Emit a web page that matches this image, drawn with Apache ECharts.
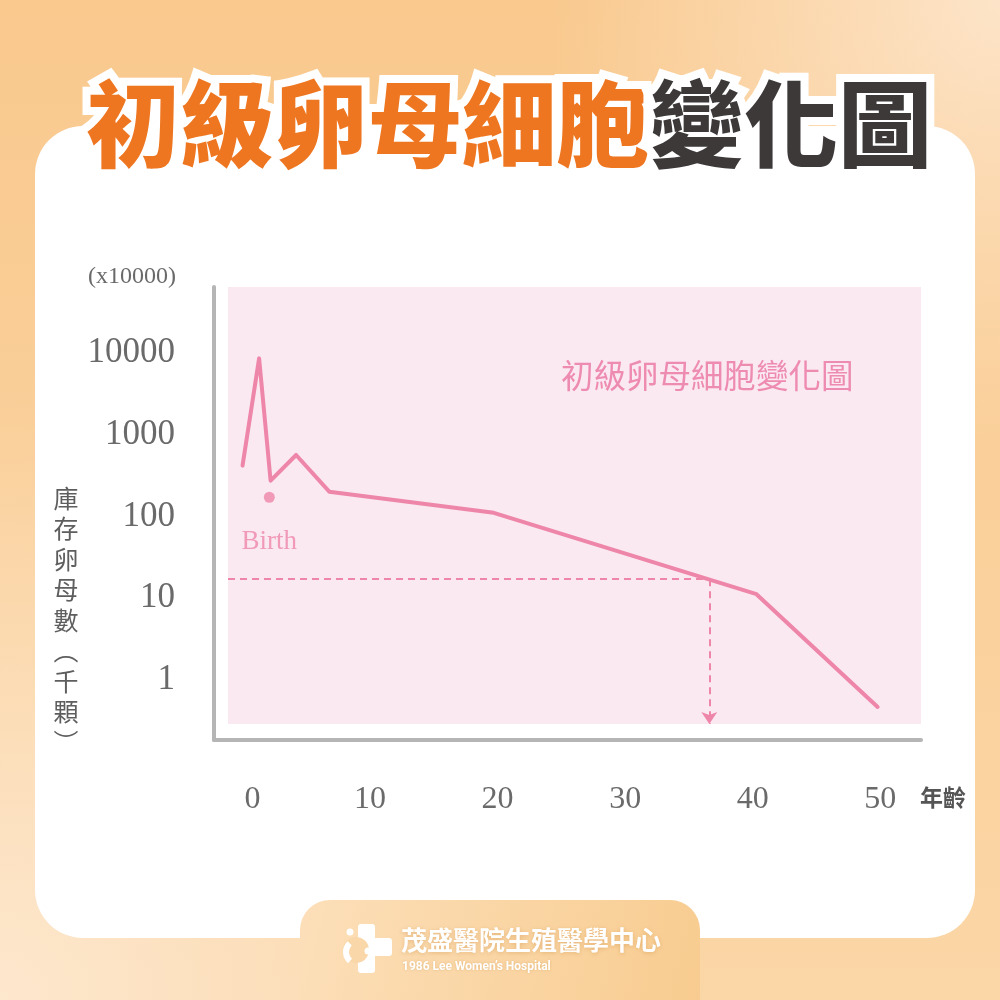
<!DOCTYPE html>
<html><head><meta charset="utf-8">
<script src="https://cdn.jsdelivr.net/npm/echarts@6/dist/echarts.min.js"></script>
<style>html,body{margin:0;padding:0;background:#fff;}#c{width:1000px;height:1000px;}</style>
</head><body><div id="c"></div>
<script>
// ---- data ----
const ages = [0, 1.3, 2.2, 4.2, 6.8, 19.7, 40.3, 49.8];
const oocytes = [385, 7900, 252, 520, 185, 102, 10.3, 0.43];
const birthPoint = [2.1, 158];
const birthLabel = 'Birth';
const refAge = 36.6;
const refCount = 15.7;
const xTicks = [0, 10, 20, 30, 40, 50];
const yTicks = [1, 10, 100, 1000, 10000];
const xRange = [-1.14, 53.2];
const yRange = [0.266, 59000];
const titleOrange = '初級卵母細胞';
const titleDark = '變化圖';
const plotTitle = '初級卵母細胞變化圖';
const yUnit = '(x10000)';
const yNameChars = ['庫', '存', '卵', '母', '數', '︵', '千', '顆', '︶'];
const xName = '年齡';
const footerName = '茂盛醫院生殖醫學中心';
const footerSub = '1986 Lee Women’s Hospital';

const PINK = '#ee86aa';
const GREY = '#6a6a6a';
const SERIF = '"Liberation Serif", "DejaVu Serif", serif';
const CJK = '"Noto Sans CJK TC", "Noto Sans", sans-serif';

const chart = echarts.init(document.getElementById('c'), null, { renderer: 'canvas' });

function matchTick(v, ticks) {
  for (const t of ticks) { if (Math.abs(t - v) <= Math.abs(t) * 1e-6 + 1e-9) return String(t); }
  return '';
}

const option = {
  animation: false,
  grid: [
    { left: 228, top: 287, right: 79, bottom: 276, show: true, backgroundColor: '#fbe9f1', borderWidth: 0, z: 1 },
    { left: 214, top: 287, right: 79, bottom: 260, show: false, z: 1 }
  ],
  xAxis: [
    {
      type: 'value', gridIndex: 0, min: xRange[0], max: xRange[1],
      axisLine: { show: false }, axisTick: { show: false }, splitLine: { show: false },
      axisLabel: {
        customValues: xTicks, margin: 60, color: GREY, fontSize: 32, fontFamily: SERIF,
        formatter: v => { const s = matchTick(v, xTicks); return s === '0' ? '{z|0}' : s; },
        rich: { z: { fontSize: 32, fontFamily: SERIF, color: GREY, padding: [0, 0, 0, 20] } }
      }
    },
    {
      type: 'value', gridIndex: 1, min: 0, max: 1,
      axisLine: { show: true, lineStyle: { color: '#b5b5b5', width: 4 } },
      axisTick: { show: false }, splitLine: { show: false }, axisLabel: { show: false }
    }
  ],
  yAxis: [
    {
      type: 'log', gridIndex: 0, min: yRange[0], max: yRange[1], logBase: 10,
      axisLine: { show: false }, axisTick: { show: false }, splitLine: { show: false },
      axisLabel: {
        showMinLabel: false, showMaxLabel: false, margin: 53, color: GREY, fontSize: 35, fontFamily: SERIF,
        formatter: v => { const s = matchTick(v, yTicks); return s ? '{n|' + s + '}' : ''; },
        rich: { n: { fontSize: 35, fontFamily: SERIF, color: GREY, padding: [6, 0, 0, 0] } }
      }
    },
    {
      type: 'value', gridIndex: 1, min: 0, max: 1,
      axisLine: { show: true, lineStyle: { color: '#b5b5b5', width: 4 } },
      axisTick: { show: false }, splitLine: { show: false }, axisLabel: { show: false }
    }
  ],
  series: [
    {
      type: 'line', xAxisIndex: 0, yAxisIndex: 0, z: 5,
      data: ages.map((a, i) => [a, oocytes[i]]),
      symbol: 'none',
      lineStyle: { color: PINK, width: 4, join: 'round', cap: 'round' },
      markLine: {
        silent: true, symbol: ['none', 'none'],
        label: { show: false },
        lineStyle: { color: PINK, width: 2, type: [7, 5] },
        data: [
          [{ coord: [xRange[0] + 0.001, refCount] }, { coord: [refAge, refCount] }],
          [{ coord: [refAge, refCount] }, { coord: [refAge, yRange[0] * 1.0001], symbol: 'arrow', symbolSize: 12 }]
        ]
      }
    },
    {
      type: 'scatter', xAxisIndex: 0, yAxisIndex: 0, z: 6,
      data: [birthPoint], symbolSize: 11,
      itemStyle: { color: PINK },
      label: {
        show: true, position: 'bottom', distance: 26, formatter: birthLabel,
        color: PINK, fontSize: 27, fontFamily: SERIF
      }
    }
  ],
  graphic: [
    // background
    { type: 'rect', z: -10, shape: { x: 0, y: 0, width: 1000, height: 1000 },
      style: { fill: new echarts.graphic.LinearGradient(0, 0, 0, 1, [
        { offset: 0, color: '#f9c98e' }, { offset: 1, color: '#fbd6a6' }]) } },
    { type: 'rect', z: -9, shape: { x: 0, y: 0, width: 1000, height: 1000 },
      style: { fill: new echarts.graphic.RadialGradient(1, 0, 0.45, [
        { offset: 0, color: 'rgba(253,228,200,1)' }, { offset: 1, color: 'rgba(253,228,200,0)' }]) } },
    { type: 'rect', z: -9, shape: { x: 0, y: 0, width: 1000, height: 1000 },
      style: { fill: new echarts.graphic.RadialGradient(0, 1, 0.6, [
        { offset: 0, color: 'rgba(253,231,205,1)' }, { offset: 1, color: 'rgba(253,231,205,0)' }]) } },
    // card
    { type: 'rect', z: -8, shape: { x: 35, y: 126, width: 940, height: 812, r: 48 }, style: { fill: '#ffffff' } },
    // footer tab
    { type: 'rect', z: -7, shape: { x: 300, y: 900, width: 400, height: 100, r: [30, 30, 0, 0] },
      style: { fill: new echarts.graphic.LinearGradient(0, 0, 1, 1, [
        { offset: 0, color: '#fcdfb9' }, { offset: 1, color: '#f8cc90' }]) } },
    // logo
    { type: 'rect', z: 20, shape: { x: 358, y: 924, width: 17, height: 49, r: 3 }, style: { fill: '#fff' } },
    { type: 'rect', z: 20, shape: { x: 358, y: 938, width: 34, height: 18, r: 3 }, style: { fill: '#fff' } },
    { type: 'circle', z: 21, shape: { cx: 356, cy: 950, r: 13 }, style: { fill: '#fad7a9' } },
    { type: 'circle', z: 22, shape: { cx: 368, cy: 951, r: 3.5 }, style: { fill: '#fff' } },
    { type: 'circle', z: 22, shape: { cx: 350, cy: 932, r: 3.5 }, style: { fill: '#fff' } },
    { type: 'arc', z: 22, shape: { cx: 358, cy: 952, r: 12, startAngle: 2.3, endAngle: 3.95, clockwise: true },
      style: { stroke: '#fff', lineWidth: 6, fill: null } },
    // footer texts
    { type: 'text', z: 22, x: 401, y: 940,
      style: { text: footerName, fill: '#fff', font: 'bold 26px ' + CJK, verticalAlign: 'middle',
        textShadowColor: 'rgba(190,120,40,0.35)', textShadowBlur: 4, textShadowOffsetY: 1 } },
    { type: 'text', z: 22, x: 402, y: 967,
      style: { text: footerSub, fill: '#fff', font: 'bold 12px Roboto, sans-serif', verticalAlign: 'middle',
        textShadowColor: 'rgba(190,120,40,0.35)', textShadowBlur: 3 } },
    // main title
    { type: 'text', z: 30, x: 509, y: 124,
      style: {
        text: '{o|' + titleOrange + '}{g|' + titleDark + '}',
        align: 'center', verticalAlign: 'middle',
        rich: {
          o: { fontSize: 94, fontWeight: 900, fontFamily: CJK, fill: '#ef7620',
               stroke: '#ffffff', lineWidth: 16 },
          g: { fontSize: 94, fontWeight: 900, fontFamily: CJK, fill: '#3d3939',
               stroke: '#ffffff', lineWidth: 16 }
        }
      } },
    // plot title
    { type: 'text', z: 30, x: 561, y: 376,
      style: { text: plotTitle, fill: '#ee8bb0', font: '32.5px ' + CJK, verticalAlign: 'middle' } },
    // y unit
    { type: 'text', z: 30, x: 176, y: 277,
      style: { text: yUnit, fill: GREY, font: '24px ' + SERIF, align: 'right', verticalAlign: 'middle' } },
    // y name (vertical)
    { type: 'text', z: 30, x: 66, y: 620,
      style: { text: yNameChars.join('\n'), fill: '#5e5e5e', font: '25px ' + CJK, lineHeight: 30.5,
        align: 'center', verticalAlign: 'middle' } },
    // x name
    { type: 'text', z: 30, x: 920, y: 797,
      style: { text: xName, fill: '#555', font: 'bold 23px ' + CJK, verticalAlign: 'middle' } }
  ]
};
chart.setOption(option);
</script>
</body></html>
